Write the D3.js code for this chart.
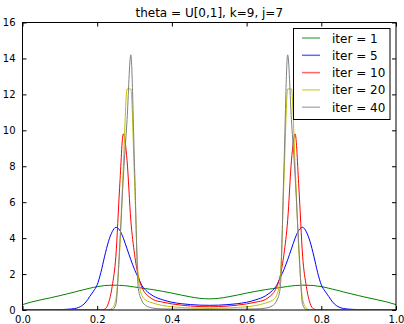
<!DOCTYPE html>
<html>
<head>
<meta charset="utf-8">
<script src="https://cdn.jsdelivr.net/npm/d3@7"></script>
<style>
  body { margin: 0; background: #fff; }
  svg { display: block; font-family: "DejaVu Sans", sans-serif; }
</style>
</head>
<body>
<svg id="chart" width="404" height="324"></svg>
<script>
// Data

var xs = [0, 0.025, 0.05, 0.075, 0.1, 0.12, 0.14, 0.15, 0.16, 0.17, 0.18, 0.19, 0.2, 0.21, 0.22, 0.23, 0.24,
  0.25, 0.26, 0.27, 0.28, 0.29, 0.3, 0.31, 0.32, 0.33, 0.34, 0.35, 0.375, 0.4, 0.425, 0.45, 0.475,
  0.5,
  0.525, 0.55, 0.575, 0.6, 0.625, 0.65, 0.66, 0.67, 0.68, 0.69, 0.7, 0.71, 0.72, 0.73, 0.74, 0.75,
  0.76, 0.77, 0.78, 0.79, 0.8, 0.81, 0.82, 0.83, 0.84, 0.85, 0.86, 0.88, 0.9, 0.925, 0.95, 0.975, 1];

var iter1 = [0.3, 0.45, 0.57, 0.68, 0.8, 0.9, 1.0, 1.06, 1.11, 1.16, 1.21, 1.26, 1.3, 1.33, 1.36, 1.37, 1.38,
  1.38, 1.37, 1.36, 1.34, 1.31, 1.28, 1.25, 1.22, 1.19, 1.16, 1.13, 1.04, 0.94, 0.83, 0.73, 0.65,
  0.62,
  0.65, 0.73, 0.83, 0.94, 1.04, 1.13, 1.16, 1.19, 1.22, 1.25, 1.28, 1.31, 1.34, 1.36, 1.37, 1.38,
  1.38, 1.37, 1.36, 1.33, 1.3, 1.26, 1.21, 1.16, 1.11, 1.06, 1.0, 0.9, 0.8, 0.68, 0.57, 0.45, 0.3];

var iter5 = [0, 0, 0.005, 0.01, 0.02, 0.04, 0.08, 0.14, 0.25, 0.45, 0.75, 1.05, 1.4, 2.1, 3.0, 3.8, 4.35,
  4.6, 4.45, 4.0, 3.4, 2.8, 2.25, 1.8, 1.35, 1.1, 0.92, 0.78, 0.57, 0.43, 0.35, 0.3, 0.27,
  0.26,
  0.27, 0.3, 0.35, 0.43, 0.57, 0.78, 0.92, 1.1, 1.35, 1.8, 2.25, 2.8, 3.4, 4.0, 4.45, 4.6,
  4.35, 3.8, 3.0, 2.1, 1.4, 1.05, 0.75, 0.45, 0.25, 0.14, 0.08, 0.04, 0.02, 0.01, 0.005, 0, 0];

var iter10 = [0, 0, 0, 0, 0, 0, 0, 0, 0, 0, 0, 0, 0, 0, 0.05, 0.37, 1.3,
  3.0, 6.8, 9.8, 8.3, 5.0, 3.1, 1.9, 1.25, 0.9, 0.72, 0.58, 0.44, 0.34, 0.27, 0.22, 0.19,
  0.18,
  0.19, 0.22, 0.27, 0.34, 0.44, 0.58, 0.72, 0.9, 1.25, 1.9, 3.1, 5.0, 8.3, 9.8, 6.8, 3.0,
  1.3, 0.37, 0.05, 0, 0, 0, 0, 0, 0, 0, 0, 0, 0, 0, 0, 0, 0];

var iter20 = [0, 0, 0, 0, 0, 0, 0, 0, 0, 0, 0, 0, 0, 0, 0, 0, 0.1,
  0.6, 3.2, 8.0, 12.3, 12.3, 7.2, 1.8, 0.8, 0.55, 0.45, 0.38, 0.25, 0.18, 0.14, 0.11, 0.1,
  0.09,
  0.1, 0.11, 0.14, 0.18, 0.25, 0.38, 0.45, 0.55, 0.8, 1.8, 7.2, 12.3, 12.3, 8.0, 3.2, 0.6,
  0.1, 0, 0, 0, 0, 0, 0, 0, 0, 0, 0, 0, 0, 0, 0, 0, 0];

var iter40 = [0, 0, 0, 0, 0, 0, 0, 0, 0, 0, 0, 0, 0, 0, 0, 0, 0.02,
  0.3, 3.5, 7.4, 10.6, 14.2, 8.0, 1.2, 0.5, 0.25, 0.15, 0.1, 0.06, 0.05, 0.04, 0.04, 0.04,
  0.04,
  0.04, 0.04, 0.04, 0.05, 0.06, 0.1, 0.15, 0.25, 0.5, 1.2, 8.0, 14.2, 10.6, 7.4, 3.5, 0.3,
  0.02, 0, 0, 0, 0, 0, 0, 0, 0, 0, 0, 0, 0, 0, 0, 0, 0];

var seriesLabels = ["iter = 1", "iter = 5", "iter = 10", "iter = 20", "iter = 40"];
var seriesColors = ["#008000", "#0000ff", "#ff0000", "#bfbf00", "#808080"];
var seriesValues = [iter1, iter5, iter10, iter20, iter40];

var xTicks = [0, 0.2, 0.4, 0.6, 0.8, 1.0];
var yTicks = [0, 2, 4, 6, 8, 10, 12, 14, 16];
var title = "theta = U[0,1], k=9, j=7";

// Chart

var svg = d3.select("#chart");
var plotLeft = 22.5, plotRight = 396, plotTop = 22.5, plotBottom = 310;

var x = d3.scaleLinear().domain([0, 1]).range([plotLeft, plotRight]);
var y = d3.scaleLinear().domain([0, 16]).range([plotBottom, plotTop]);

var line = d3.line()
  .x(function(d) { return x(d[0]); })
  .y(function(d) { return y(d[1]); })
  .curve(d3.curveMonotoneX);

svg.append("clipPath").attr("id", "plotclip")
  .append("rect")
  .attr("x", plotLeft).attr("y", plotTop)
  .attr("width", plotRight - plotLeft).attr("height", plotBottom - plotTop);

var plot = svg.append("g").attr("clip-path", "url(#plotclip)");

seriesValues.forEach(function(vals, i) {
  plot.append("path")
    .datum(xs.map(function(v, k) { return [v, vals[k]]; }))
    .attr("fill", "none")
    .attr("stroke", seriesColors[i])
    .attr("stroke-width", 1)
    .attr("d", line);
});

// Axes (ticks pointing inward on all four sides)

var xAxisB = d3.axisBottom(x).tickValues(xTicks).tickFormat(d3.format(".1f")).tickSizeInner(-4).tickSizeOuter(0).tickPadding(6);
var xAxisT = d3.axisTop(x).tickValues(xTicks).tickFormat("").tickSizeInner(-4).tickSizeOuter(0);
var yAxisL = d3.axisLeft(y).tickValues(yTicks).tickFormat(d3.format("d")).tickSizeInner(-4).tickSizeOuter(0).tickPadding(7);
var yAxisR = d3.axisRight(y).tickValues(yTicks).tickFormat("").tickSizeInner(-4).tickSizeOuter(0);

function styleAxis(g) {
  g.select(".domain").remove();
  g.selectAll(".tick line").attr("stroke", "#000");
  g.selectAll(".tick text").attr("fill", "#000").style("font-size", "10px").style("font-family", "DejaVu Sans");
}

svg.append("g").attr("transform", "translate(0," + plotBottom + ")").call(xAxisB).call(styleAxis);
svg.append("g").attr("transform", "translate(0," + plotTop + ")").call(xAxisT).call(styleAxis);
svg.append("g").attr("transform", "translate(" + plotLeft + ",0)").call(yAxisL).call(styleAxis);
svg.append("g").attr("transform", "translate(" + plotRight + ",0)").call(yAxisR).call(styleAxis);

svg.append("rect")
  .attr("x", plotLeft).attr("y", plotTop)
  .attr("width", plotRight - plotLeft).attr("height", plotBottom - plotTop)
  .attr("fill", "none")
  .attr("stroke", "#000")
  .attr("stroke-width", 1);

svg.append("text")
  .attr("x", (plotLeft + plotRight) / 2)
  .attr("y", 17)
  .attr("text-anchor", "middle")
  .style("font-size", "12px")
  .text(title);

// Legend

var legend = svg.append("g");
legend.append("rect")
  .attr("x", 293.5).attr("y", 28.5)
  .attr("width", 96.5).attr("height", 91)
  .attr("fill", "#fff")
  .attr("stroke", "#000")
  .attr("stroke-width", 1);

seriesLabels.forEach(function(label, i) {
  var ly = 38 + i * 17.3;
  legend.append("line")
    .attr("x1", 302).attr("x2", 320)
    .attr("y1", ly).attr("y2", ly)
    .attr("stroke", seriesColors[i])
    .attr("stroke-opacity", 0.6)
    .attr("stroke-width", 1.5);
  legend.append("text")
    .attr("x", 332).attr("y", ly + 4.5)
    .style("font-size", "12px")
    .text(label);
});
</script>
</body>
</html>
